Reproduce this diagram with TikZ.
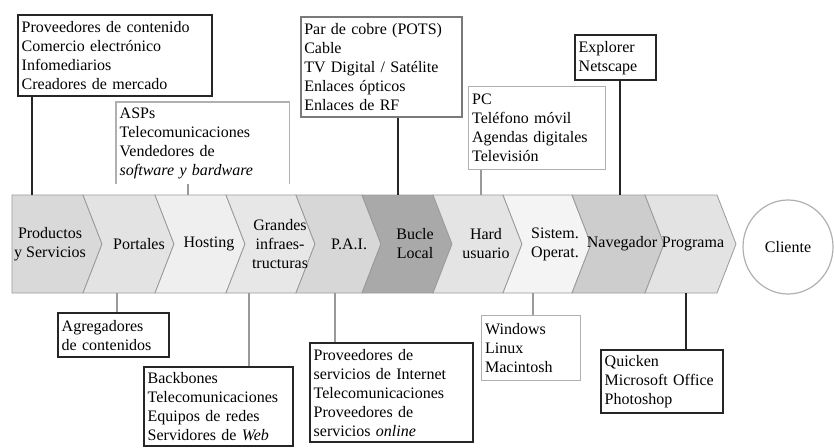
\documentclass[tikz,border=0pt]{standalone}
\usepackage{fontspec}
\setmainfont{Liberation Serif}
\usetikzlibrary{shapes.geometric}

\definecolor{boxdark}{HTML}{262626}
\definecolor{boxmid}{HTML}{7A7A7A}
\definecolor{boxlight}{HTML}{B0B0B0}
\definecolor{edge}{HTML}{9A9A9A}
\definecolor{fProd}{HTML}{D9D9D9}
\definecolor{fPort}{HTML}{E3E3E3}
\definecolor{fHost}{HTML}{EFEFEF}
\definecolor{fGran}{HTML}{E7E7E7}
\definecolor{fPai}{HTML}{D7D7D7}
\definecolor{fBucle}{HTML}{A9A9A9}
\definecolor{fHard}{HTML}{E4E4E4}
\definecolor{fSis}{HTML}{F4F4F4}
\definecolor{fNav}{HTML}{CDCDCD}
\definecolor{fProg}{HTML}{E3E3E3}

\tikzset{
  txt/.style={font=\fontsize{16}{19}\selectfont},
  listbox/.style={txt, anchor=north west, align=left, inner xsep=3.5pt, inner ysep=1pt},
  heavybox/.style={listbox, draw=boxdark, line width=2.4pt},
  midbox/.style={listbox, draw=boxmid, line width=1.5pt},
  lightbox/.style={listbox, draw=boxlight, line width=1.2pt},
  darklink/.style={draw=boxdark, line width=2pt},
  greylink/.style={draw=edge, line width=1.3pt},
  stage/.style={txt, align=center, inner sep=0pt, minimum height=98pt},
  chev/.style={draw=edge, line width=0.8pt, line join=miter},
}

\begin{document}
\begin{tikzpicture}[x=1pt, y=-1pt]
\useasboundingbox (0,0) rectangle (834,447);
\clip (0,0) rectangle (834,447);

% value chain: chevrons from the provider to the client
\filldraw[chev, fill=fProd]  (12,195) -- (83,195) -- (102,244) -- (83,293) -- (12,293) -- cycle;
\filldraw[chev, fill=fPort]  (83,195) -- (155,195) -- (174,244) -- (155,293) -- (83,293) -- (102,244) -- cycle;
\filldraw[chev, fill=fHost]  (155,195) -- (226,195) -- (245,244) -- (226,293) -- (155,293) -- (174,244) -- cycle;
\filldraw[chev, fill=fGran]  (226,195) -- (296,195) -- (315,244) -- (296,293) -- (226,293) -- (245,244) -- cycle;
\filldraw[chev, fill=fPai]   (296,195) -- (362,195) -- (381,244) -- (362,293) -- (296,293) -- (315,244) -- cycle;
\filldraw[chev, fill=fBucle] (362,195) -- (433,195) -- (452,244) -- (433,293) -- (362,293) -- (381,244) -- cycle;
\filldraw[chev, fill=fHard]  (433,195) -- (503,195) -- (522,244) -- (503,293) -- (433,293) -- (452,244) -- cycle;
\filldraw[chev, fill=fSis]   (503,195) -- (572,195) -- (591,244) -- (572,293) -- (503,293) -- (522,244) -- cycle;
\filldraw[chev, fill=fNav]   (572,195) -- (645,195) -- (664,244) -- (645,293) -- (572,293) -- (591,244) -- cycle;
\filldraw[chev, fill=fProg]  (645,195) -- (717,195) -- (736,244) -- (717,293) -- (645,293) -- (664,244) -- cycle;

\node[stage] (prod)  at (50,244)  {Productos\\y Servicios};
\node[stage] (port)  at (139,244) {Portales};
\node[stage] (host)  at (209,244) {Hosting};
\node[stage] (gran)  at (280,244) {Grandes\\infraes-\\tructuras};
\node[stage] (pai)   at (349,244) {P.A.I.};
\node[stage] (bucle) at (415,244) {Bucle\\Local};
\node[stage] (hard)  at (486,244) {Hard\\usuario};
\node[stage] (sis)   at (555,244) {Sistem.\\Operat.};
\node[stage] (nav)   at (622,244) {Navegador};
\node[stage] (prog)  at (693,244) {Programa};

\node[txt, ellipse, draw=boxlight, line width=1.2pt, fill=white,
      minimum width=90pt, minimum height=94pt, inner sep=0pt] (cli) at (788,247) {Cliente};

% actors above the chain
\node[heavybox, text width=187pt, minimum height=81pt] (contenido) at (17,14)
  {Proveedores de contenido\\Comercio electrónico\\Infomediarios\\Creadores de mercado};
\node[listbox, text width=166pt, minimum height=82pt] (asp) at (116,102)
  {ASPs\\Telecomunicaciones\\Vendedores de\\\textit{software y bardware}};
\draw[draw=boxlight, line width=1.2pt] (asp.south west) -- (asp.north west) -- (asp.north east) -- (asp.south east);
\node[midbox, text width=154pt, minimum height=100pt] (cobre) at (300,16)
  {Par de cobre (POTS)\\Cable\\TV Digital / Satélite\\Enlaces ópticos\\Enlaces de RF};
\node[lightbox, text width=130pt, minimum height=83pt] (disp) at (468,86)
  {PC\\Teléfono móvil\\Agendas digitales\\Televisión};
\node[heavybox, text width=74pt, minimum height=45pt] (browser) at (574,34)
  {Explorer\\Netscape};

% actors below the chain
\node[heavybox, text width=104pt, minimum height=44pt] (agreg) at (57,312)
  {Agregadores\\de contenidos};
\node[heavybox, text width=142pt, minimum height=79pt] (backb) at (143,366)
  {Backbones\\Telecomunicaciones\\Equipos de redes\\Servidores de \textit{Web}};
\node[heavybox, text width=156pt, minimum height=99pt] (isp) at (309,342)
  {Proveedores de\\servicios de Internet\\Telecomunicaciones\\Proveedores de\\servicios \textit{online}};
\node[lightbox, text width=92pt, minimum height=65pt] (os) at (481,315)
  {Windows\\Linux\\Macintosh};
\node[heavybox, text width=115pt, minimum height=63pt] (apps) at (600,349)
  {Quicken\\Microsoft Office\\Photoshop};

% columns where the links meet the chain
\coordinate (x1) at (32,0);
\coordinate (x2) at (188,0);
\coordinate (x3) at (398,0);
\coordinate (x4) at (481,0);
\coordinate (x5) at (620,0);
\coordinate (x6) at (117,0);
\coordinate (x7) at (249,0);
\coordinate (x8) at (335,0);
\coordinate (x9) at (533,0);
\coordinate (x10) at (686,0);

\draw[darklink] (x1 |- contenido.south) -- (x1 |- prod.north);
\draw[greylink] (x2 |- asp.south) -- (x2 |- host.north);
\draw[darklink] (x3 |- cobre.south) -- (x3 |- bucle.north);
\draw[greylink] (x4 |- disp.south) -- (x4 |- hard.north);
\draw[darklink] (x5 |- browser.south) -- (x5 |- nav.north);

\draw[greylink] (x6 |- port.south) -- (x6 |- agreg.north);
\draw[greylink] (x7 |- gran.south) -- (x7 |- backb.north);
\draw[greylink] (x8 |- pai.south) -- (x8 |- isp.north);
\draw[greylink] (x9 |- sis.south) -- (x9 |- os.north);
\draw[darklink] (x10 |- prog.south) -- (x10 |- apps.north);
\end{tikzpicture}
\end{document}
